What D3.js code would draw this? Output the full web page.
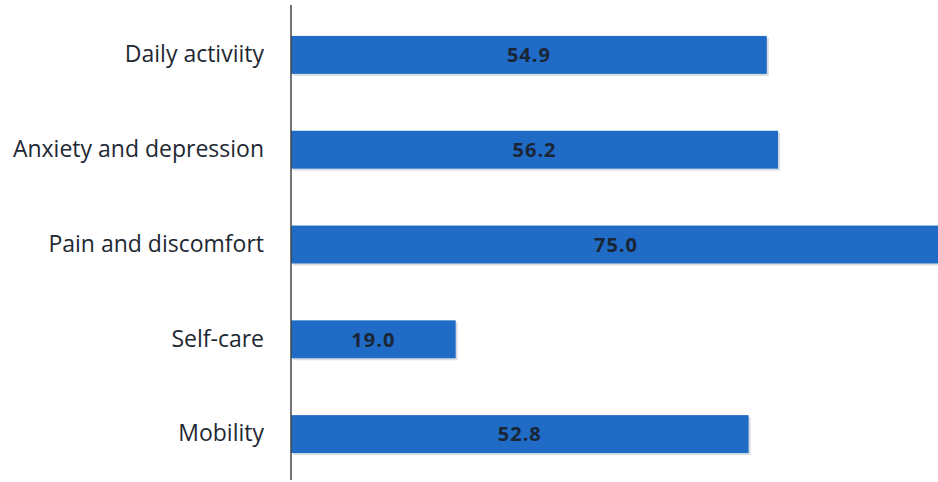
<!DOCTYPE html>
<html>
<head>
<meta charset="utf-8">
<script src="https://cdn.jsdelivr.net/npm/d3@7"></script>
<style>
  body { margin: 0; background: #fff; }
  svg { display: block; }
</style>
</head>
<body>
<svg id="chart" width="938" height="482"></svg>
<script>
const categories = ["Daily activiity", "Anxiety and depression", "Pain and discomfort", "Self-care", "Mobility"];
const values = [54.9, 56.2, 75.0, 19.0, 52.8];

const svg = d3.select("#chart");
const axisX = 291;

const x = d3.scaleLinear().domain([0, 75]).range([axisX, 941]);
const y = d3.scaleBand().domain(categories).range([7.5, 481.5])
  .paddingInner(0.6)
  .paddingOuter(0.3);

// faint shadow under bars
svg.selectAll("rect.shadow")
  .data(categories)
  .enter()
  .append("rect")
  .attr("class", "shadow")
  .attr("x", x(0) + 2)
  .attr("y", (d) => y(d) + 2)
  .attr("width", (d, i) => x(values[i]) - x(0))
  .attr("height", y.bandwidth())
  .attr("fill", "#d8dde3");

// bars
svg.selectAll("rect.bar")
  .data(categories)
  .enter()
  .append("rect")
  .attr("class", "bar")
  .attr("x", x(0))
  .attr("y", (d) => y(d))
  .attr("width", (d, i) => x(values[i]) - x(0))
  .attr("height", y.bandwidth())
  .attr("fill", "#1f6bc5");

// value labels
svg.selectAll("text.value")
  .data(categories)
  .enter()
  .append("text")
  .attr("class", "value")
  .attr("x", (d, i) => (x(0) + x(values[i])) / 2)
  .attr("y", (d) => y(d) + y.bandwidth() / 2)
  .attr("dy", "0.36em")
  .attr("text-anchor", "middle")
  .style("font-family", "'Open Sans', sans-serif")
  .style("font-size", "20px")
  .style("font-weight", "700")
  .style("letter-spacing", "1px")
  .style("fill", "#1a2535")
  .text((d, i) => values[i].toFixed(1));

// axis line + category labels
const yAxis = d3.axisLeft(y).tickSize(0).tickPadding(27);
const g = svg.append("g")
  .attr("transform", `translate(${axisX},0)`)
  .call(yAxis);
g.select(".domain").attr("d", "M0,5V480").attr("stroke", "#444").attr("stroke-width", 1.5);
g.selectAll("text")
  .style("font-family", "'Open Sans', sans-serif")
  .style("font-size", "23px")
  .style("fill", "#1e2833");
</script>
</body>
</html>
